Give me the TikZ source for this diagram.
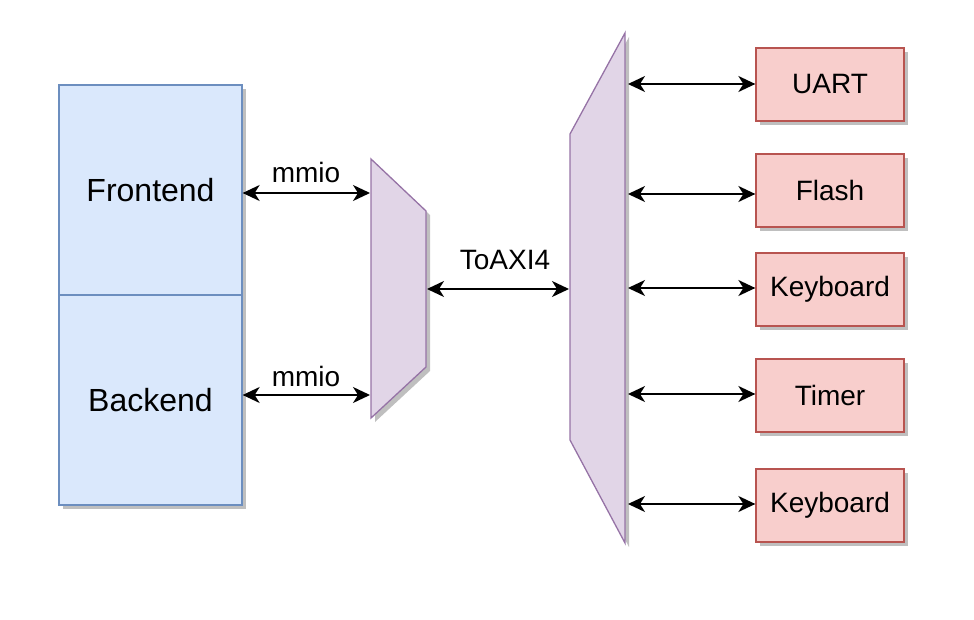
\documentclass[tikz,border=0pt]{standalone}
\usepackage{fontspec}
\setmainfont{Liberation Sans}
\usetikzlibrary{arrows.meta}
\definecolor{bfill}{HTML}{DAE8FC}\definecolor{bdraw}{HTML}{6C8EBF}
\definecolor{pfill}{HTML}{E1D5E7}\definecolor{pdraw}{HTML}{9673A6}
\definecolor{rfill}{HTML}{F8CECC}\definecolor{rdraw}{HTML}{B85450}
\tikzset{
  shadowed/.style={preaction={fill=black,opacity=0.25,transform canvas={shift={(4pt,-4pt)}}}},
  bluebox/.style={shadowed,draw=bdraw,fill=bfill,line width=1.3pt,minimum width=183pt,minimum height=210pt,inner sep=0pt,font=\fontsize{32}{36}\selectfont},
  redbox/.style={shadowed,draw=rdraw,fill=rfill,line width=1.3pt,minimum width=148pt,minimum height=73pt,inner sep=0pt,font=\fontsize{28}{32}\selectfont},
  mux/.style={shadowed,draw=pdraw,fill=pfill,line width=1.3pt},
  arr/.style={line width=1.6pt,{Stealth[length=17pt,width=16pt,inset=5pt]}-{Stealth[length=17pt,width=16pt,inset=5pt]}},
  lbl/.style={font=\fontsize{28}{32}\selectfont,inner sep=0pt}
}
\begin{document}
\begin{tikzpicture}[x=1pt,y=-1pt]
\useasboundingbox (0,0) rectangle (974,620);
% left boxes
\node[bluebox] (fe) at (150.5,190) {Frontend};
\node[bluebox] (be) at (150.5,400) {Backend};
% small mux
\draw[mux] (371,159) -- (426,211) -- (426,367) -- (371,418) -- cycle;
% big mux
\draw[mux] (570,134) -- (625,33) -- (625,543) -- (570,440) -- cycle;
% ports
\coordinate (s1) at (370,193);
\coordinate (s2) at (370,395);
\coordinate (sout) at (427,289);
\coordinate (bin) at (569,289);
% right boxes
\node[redbox] (uart) at (830,84.5) {UART};
\node[redbox] (flash) at (830,190.5) {Flash};
\node[redbox] (kb1) at (830,289.5) {Keyboard};
\node[redbox] (timer) at (830,395.5) {Timer};
\node[redbox] (kb2) at (830,505.5) {Keyboard};
\coordinate (p1) at (628,84);
\coordinate (p2) at (628,194);
\coordinate (p3) at (628,288);
\coordinate (p4) at (628,394);
\coordinate (p5) at (628,504);
% arrows
\draw[arr] (fe.east |- s1) -- (s1);
\draw[arr] (be.east |- s2) -- (s2);
\draw[arr] (sout) -- (bin);
\draw[arr] (p1) -- (uart.west |- p1);
\draw[arr] (p2) -- (flash.west |- p2);
\draw[arr] (p3) -- (kb1.west |- p3);
\draw[arr] (p4) -- (timer.west |- p4);
\draw[arr] (p5) -- (kb2.west |- p5);
% labels
\node[lbl] (l1) at (306,172) {mmio};
\node[lbl] (l2) at (306,376) {mmio};
\node[lbl] (l3) at (505,260) {ToAXI4};
\end{tikzpicture}
\end{document}
